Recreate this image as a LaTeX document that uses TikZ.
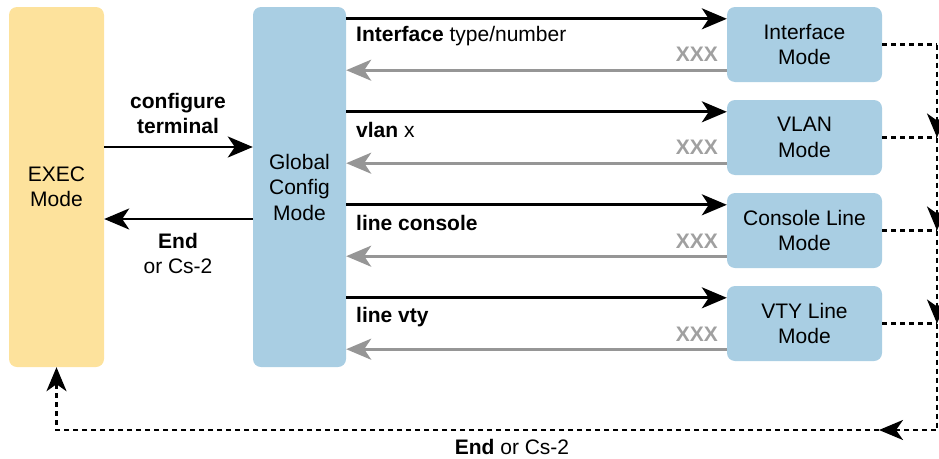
\documentclass[tikz,border=0pt]{standalone}
\usepackage{fontspec}
\setmainfont{Liberation Sans}
\usetikzlibrary{arrows.meta,calc}
\definecolor{ylw}{RGB}{253,226,156}
\definecolor{blu}{RGB}{169,206,227}
\definecolor{gry}{RGB}{150,150,150}
\definecolor{xgry}{RGB}{160,160,160}
\begin{document}
\begin{tikzpicture}[x=1pt,y=-1pt,
  every node/.style={font=\fontsize{21}{25.5}\selectfont},
  modebox/.style={rounded corners=8pt,inner sep=0pt,align=center},
  blk/.style={line width=2.7pt,-{Stealth[length=25pt,width=21pt,inset=7pt]}},
  gra/.style={gry,line width=3pt,-{Stealth[length=25pt,width=21pt,inset=7pt]}},
  dsh/.style={line width=2.7pt,dash pattern=on 5pt off 4pt},
  dsha/.style={dsh,-{Stealth[length=24pt,width=20pt,inset=7pt]}},
  cmd/.style={anchor=west,inner sep=0pt},
  xxx/.style={anchor=east,inner sep=0pt,text=xgry,font=\fontsize{21}{25}\selectfont\bfseries}]
\useasboundingbox (0,0) rectangle (939,458);
% boxes
\node[modebox,fill=ylw,minimum width=95pt,minimum height=360pt] (exec) at (56.5,187) {EXEC\\Mode};
\node[modebox,fill=blu,minimum width=93pt,minimum height=360pt] (global) at (299.5,187) {Global\\Config\\Mode};
\node[modebox,fill=blu,minimum width=155pt,minimum height=75pt] (intf) at (804.5,44.5) {Interface\\Mode};
\node[modebox,fill=blu,minimum width=155pt,minimum height=75pt] (vlan) at (804.5,137.5) {VLAN\\Mode};
\node[modebox,fill=blu,minimum width=155pt,minimum height=75pt] (cons) at (804.5,230.5) {Console Line\\Mode};
\node[modebox,fill=blu,minimum width=155pt,minimum height=75pt] (vty) at (804.5,323.5) {VTY Line\\Mode};
% exec <-> global
\draw[blk] ([yshift=40pt]exec.east) -- ([yshift=40pt]global.west);
\draw[blk] ([yshift=-32pt]global.west) -- ([yshift=-32pt]exec.east);
\node[align=center,inner sep=0pt,font=\fontsize{21}{25.5}\selectfont\bfseries] (ct) at (178,113.5) {configure\\terminal};
\node[align=center,inner sep=0pt] (en) at (178,253.5) {\textbf{End}\\or Cs-2};
% global <-> submodes
\foreach \b in {intf,vlan,cons,vty}{
  \coordinate (\b-in) at ([yshift=-12pt]\b.north west);
  \coordinate (\b-out) at ([yshift=12pt]\b.south west);
  \draw[blk] (global.east |- \b-in) -- (\b-in);
  \draw[gra] (\b-out) -- (global.east |- \b-out);
}
\node[cmd] (l1) at (356,36) {\textbf{Interface} type/number};
\node[cmd] (l2) at (356,130) {\textbf{vlan} x};
\node[cmd] (l3) at (356,223) {\textbf{line console}};
\node[cmd] (l4) at (356,317) {\textbf{line vty}};
\node[xxx] (x1) at (718,54) {XXX};
\node[xxx] (x2) at (718,147) {XXX};
\node[xxx] (x3) at (718,241) {XXX};
\node[xxx] (x4) at (718,334) {XXX};
% dashed returns
\coordinate (rx) at (937,0);
\coordinate (bt) at (879,430);
\draw[dsh] (intf.east) -- (intf.east -| rx);
\draw[dsh] (vlan.east) -- (vlan.east -| rx);
\draw[dsh] (cons.east) -- (cons.east -| rx);
\draw[dsh] (vty.east) -- (vty.east -| rx);
\draw[dsha] (intf.east -| rx) -- (vlan.east -| rx);
\draw[dsha] (vlan.east -| rx) -- (cons.east -| rx);
\draw[dsha] (cons.east -| rx) -- (vty.east -| rx);
\draw[dsha] (vty.east -| rx) |- (bt);
\draw[dsha] (bt) -| (exec.south);
\node[inner sep=0pt] (bl) at (512,447) {\textbf{End} or Cs-2};
\end{tikzpicture}
\end{document}
